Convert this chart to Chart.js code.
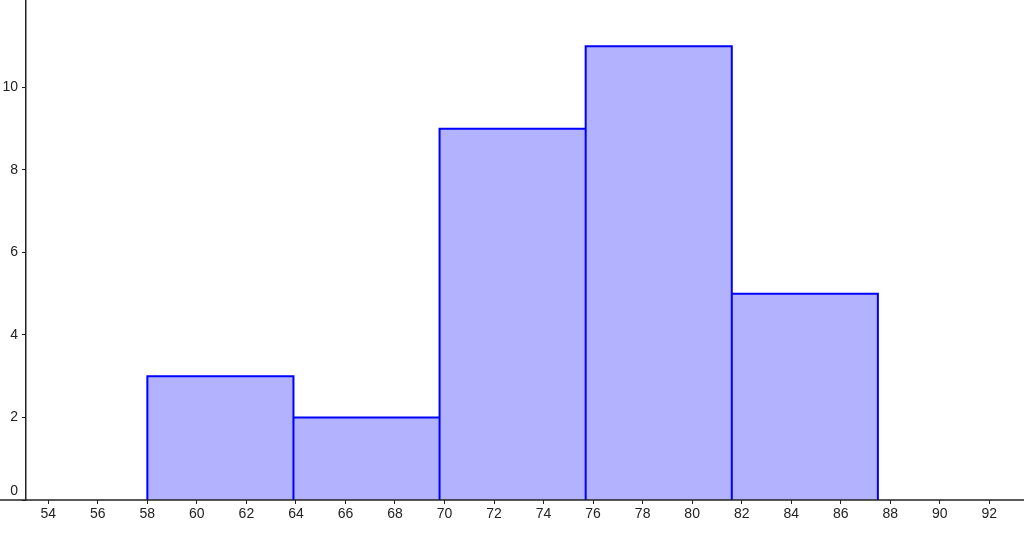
<!DOCTYPE html>
<html>
<head>
<meta charset="utf-8">
<script src="https://cdn.jsdelivr.net/npm/chart.js@4/dist/chart.umd.min.js"></script>
<style>
  html, body { margin: 0; padding: 0; background: #fff; }
  #wrap { width: 1024px; height: 540px; }
</style>
</head>
<body>
<div id="wrap"><canvas id="hist"></canvas></div>
<script>
// histogram bins: left edges, shared width, counts
const binStarts = [58, 63.9, 69.8, 75.7, 81.6];
const binWidth = 5.9;
const counts = [3, 2, 9, 11, 5];

const xTicks = [54, 56, 58, 60, 62, 64, 66, 68, 70, 72, 74, 76, 78, 80, 82, 84, 86, 88, 90, 92];
const yTicks = [0, 2, 4, 6, 8, 10];

// visible window of the axes
const xRange = [53.1, 93.4];
const yRange = [0, 12.12];

const axisColor = '#222';
const labelFont = { family: '"Liberation Sans", Arial, sans-serif', size: 14 };

// trace every bin as its own rectangle
const outline = [];
binStarts.forEach((x0, i) => {
  const x1 = x0 + binWidth;
  outline.push({ x: x0, y: 0 }, { x: x0, y: counts[i] }, { x: x1, y: counts[i] }, { x: x1, y: 0 });
});

// x axis runs across the whole picture, also left of the y axis
const axisLine = {
  id: 'axisLine',
  afterDatasetsDraw(chart) {
    const { ctx, width } = chart;
    const y = Math.round(chart.scales.y.getPixelForValue(0));
    ctx.save();
    ctx.strokeStyle = axisColor;
    ctx.lineWidth = 1.5;
    ctx.beginPath();
    ctx.moveTo(0, y);
    ctx.lineTo(width, y);
    ctx.stroke();
    ctx.restore();
  }
};

new Chart(document.getElementById('hist'), {
  type: 'line',
  data: {
    datasets: [{
      data: outline,
      borderColor: '#0000ff',
      borderWidth: 2,
      backgroundColor: 'rgba(0, 0, 255, 0.3)',
      fill: 'origin',
      tension: 0,
      pointRadius: 0,
      pointHoverRadius: 0,
    }],
  },
  options: {
    responsive: true,
    maintainAspectRatio: false,
    animation: false,
    layout: { padding: 0, autoPadding: false },
    plugins: {
      legend: { display: false },
      tooltip: { enabled: false },
    },
    scales: {
      x: {
        type: 'linear',
        min: xRange[0],
        max: xRange[1],
        afterBuildTicks: (scale) => { scale.ticks = xTicks.map((v) => ({ value: v })); },
        afterFit: (scale) => {
          scale.height = 40;
          scale.paddingLeft = 0;
          scale.paddingRight = 0;
        },
        grid: { drawOnChartArea: false, tickLength: 4, color: axisColor, lineWidth: 1 },
        border: { display: false },
        ticks: { font: labelFont, color: axisColor, padding: 2, maxRotation: 0, autoSkip: false },
      },
      y: {
        type: 'linear',
        min: yRange[0],
        max: yRange[1],
        afterBuildTicks: (scale) => { scale.ticks = yTicks.map((v) => ({ value: v })); },
        afterFit: (scale) => {
          scale.width = 26;
          scale.paddingTop = 0;
          scale.paddingBottom = 0;
        },
        grid: { drawOnChartArea: false, tickLength: 4, color: axisColor, lineWidth: 1 },
        border: { display: true, color: axisColor, width: 1.5 },
        ticks: {
          font: labelFont,
          color: axisColor,
          padding: 4,
          // lift the 0 label off the x axis
          callback: (v) => (v === 0 ? ['0', ''] : String(v)),
        },
      },
    },
  },
  plugins: [axisLine],
});
</script>
</body>
</html>
